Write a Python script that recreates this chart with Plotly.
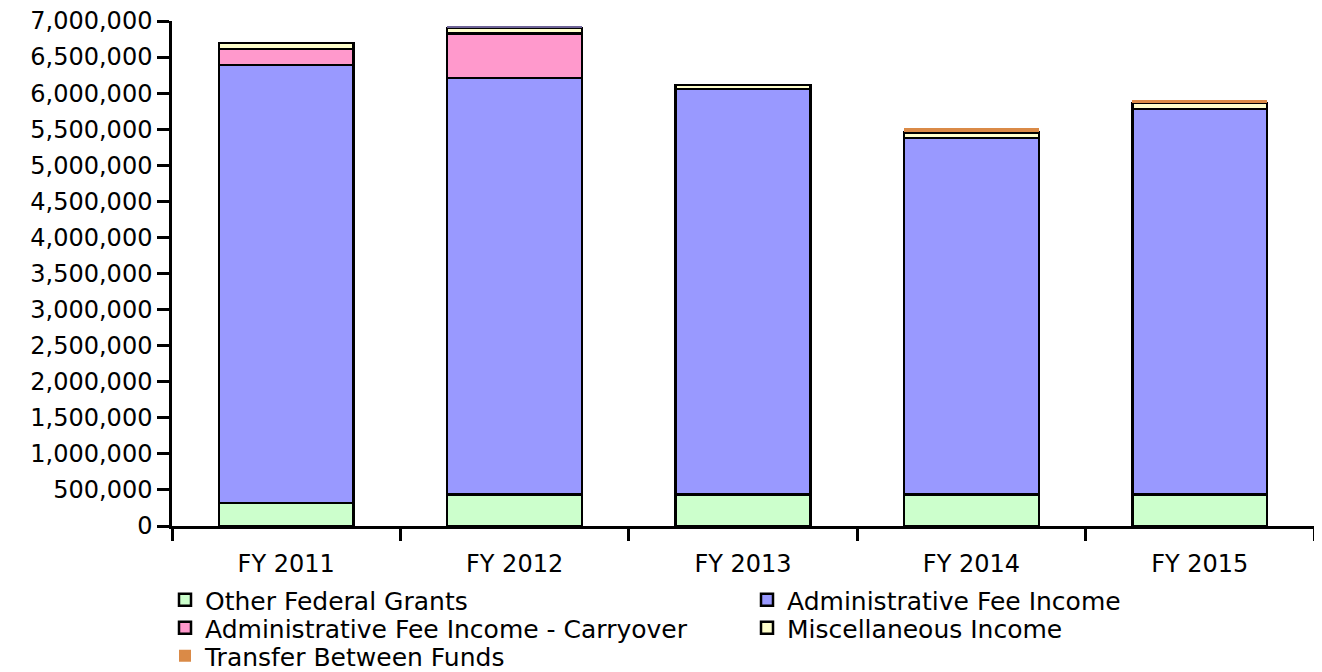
import plotly.graph_objects as go

categories = ["FY 2011", "FY 2012", "FY 2013", "FY 2014", "FY 2015"]
other_federal_grants = [320000, 440000, 440000, 440000, 440000]
admin_fee_income = [6070000, 5770000, 5620000, 4935000, 5340000]
admin_fee_carryover = [220000, 620000, 0, 0, 0]
misc_income = [85000, 70000, 55000, 80000, 80000]
transfer_between_funds = [0, 30000, 0, 55000, 50000]
y_tick_values = [i * 500000 for i in range(15)]

FONT = "DejaVu Sans"
W, H = 1322, 672
fig = go.Figure()

# (name, values, colour, legend id)
series = [
    ("Other Federal Grants", other_federal_grants, "#CCFFCC", "legend"),
    ("Administrative Fee Income", admin_fee_income, "#9999FF", "legend2"),
    ("Administrative Fee Income - Carryover", admin_fee_carryover, "#FF99CC", "legend3"),
    ("Miscellaneous Income", misc_income, "#FFFFCC", "legend4"),
]
for name, vals, color, lg in series:
    fig.add_trace(go.Bar(
        x=categories, y=vals, name=name, legend=lg,
        marker=dict(color=color, line=dict(color="black", width=2.5)),
        hoverinfo="skip",
    ))

fig.add_trace(go.Bar(
    x=categories, y=transfer_between_funds, name="Transfer Between Funds",
    legend="legend5",
    marker=dict(color=["#DA8A47", "#6E6496", "#DA8A47", "#DA8A47", "#DA8A47"],
                line=dict(width=0)),
    hoverinfo="skip",
))


def leg(left_px, top_px):
    return dict(
        orientation="v",
        xref="container", x=left_px / W, xanchor="left",
        yref="container", y=(H - top_px) / H, yanchor="top",
        font=dict(family=FONT, size=25, color="black"),
        itemwidth=30, bgcolor="rgba(0,0,0,0)",
    )


LEFT, RIGHT = 157, 739
ROW1, ROW2, ROW3 = 569, 597, 625

fig.update_layout(
    width=W, height=H,
    barmode="stack", bargap=0.41,
    plot_bgcolor="white", paper_bgcolor="white",
    margin=dict(l=164, r=16, t=13, b=154, autoexpand=False),
    font=dict(family=FONT, size=24, color="black"),
    showlegend=True,
    legend=leg(LEFT, ROW1),
    legend2=leg(RIGHT, ROW1),
    legend3=leg(LEFT, ROW2),
    legend4=leg(RIGHT, ROW2),
    legend5=leg(LEFT, ROW3),
    xaxis=dict(
        showline=True, linecolor="black", linewidth=2.5,
        ticks="outside", ticklen=12, tickwidth=2.5, tickcolor="black",
        tickson="boundaries", showgrid=False,
        tickfont=dict(family=FONT, size=24),
        ticklabelstandoff=14,
    ),
    yaxis=dict(
        range=[0, 7000000], tickmode="array", tickvals=y_tick_values,
        tickformat=",d", ticksuffix="\u2007\u00a0",
        showline=True, linecolor="black", linewidth=2.5,
        ticks="outside", ticklen=12, tickwidth=2.5, tickcolor="black",
        showgrid=False, zeroline=False,
        tickfont=dict(family=FONT, size=24),
        ticklabeloverflow="allow",
    ),
)

fig.write_html("out.html")
